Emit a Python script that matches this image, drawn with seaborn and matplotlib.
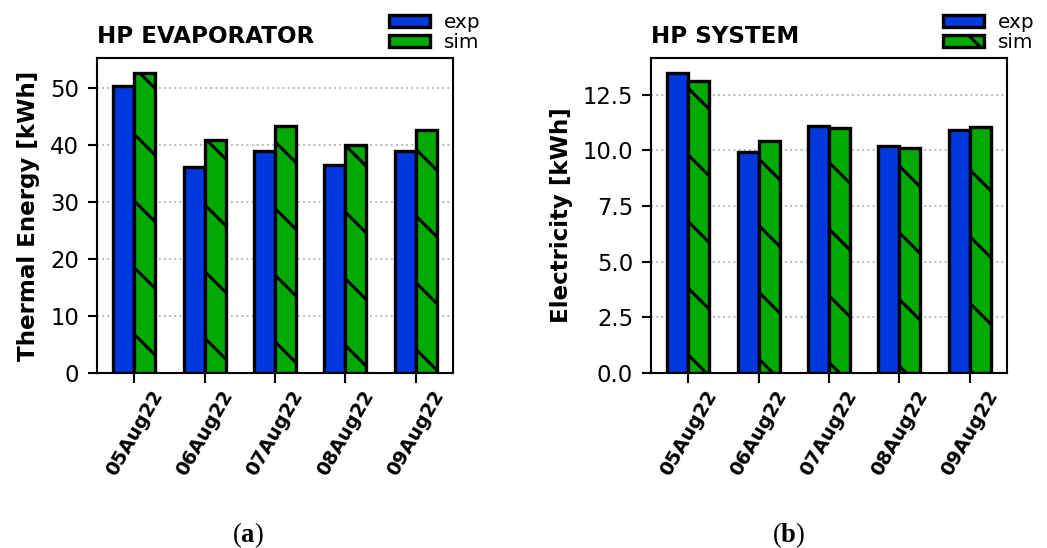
import matplotlib
matplotlib.use("Agg")
import matplotlib.pyplot as plt
import seaborn as sns
import pandas as pd

# ---- data ----
dates = ["05Aug22", "06Aug22", "07Aug22", "08Aug22", "09Aug22"]
series = ["exp", "sim"]
evap_exp = [50.3, 36.1, 39.0, 36.4, 38.9]
evap_sim = [52.6, 40.8, 43.3, 39.9, 42.6]
elec_exp = [13.47, 9.92, 11.09, 10.21, 10.90]
elec_sim = [13.11, 10.42, 10.98, 10.10, 11.05]
titles = ["HP EVAPORATOR", "HP SYSTEM"]
ylabels = ["Thermal Energy [kWh]", "Electricity [kWh]"]
captions = ["a", "b"]

sns.set_style("ticks")
DPI = 400
plt.rcParams.update({
    "font.family": ["DejaVu Sans"],
    "text.color": "black",
    "axes.labelcolor": "black",
    "hatch.linewidth": 0.55,
    "hatch.color": "black",
    "axes.linewidth": 0.38,
    "xtick.major.width": 0.38,
    "ytick.major.width": 0.38,
    "xtick.major.size": 1.75,
    "ytick.major.size": 1.7,
    "xtick.major.pad": 0.8,
    "ytick.major.pad": 1.5,
    "xtick.color": "black",
    "ytick.color": "black",
    "axes.edgecolor": "black",
    "mathtext.fontset": "custom",
    "mathtext.rm": "Liberation Serif",
    "mathtext.bf": "Liberation Serif:bold",
})

colors = {"exp": "#0038E0", "sim": "#00AA00"}

W, H = 1047, 548
fig = plt.figure(figsize=(W / DPI, H / DPI), dpi=DPI)

lefts = [97, 651]
data_sets = [(evap_exp, evap_sim), (elec_exp, elec_sim)]
cap_x = [248, 789]

TICK_FS = 4.1
XT_FS = 3.45
LAB_FS = 4.15

for i in range(2):
    e, s = data_sets[i]
    df = pd.DataFrame({
        "date": dates * 2,
        "series": ["exp"] * len(dates) + ["sim"] * len(dates),
        "value": list(e) + list(s),
    })
    ax = fig.add_axes([lefts[i] / W, (H - 373) / H, 356 / W, 315 / H])
    sns.barplot(data=df, x="date", y="value", hue="series", order=dates,
                hue_order=series, palette=colors, width=0.6, dodge=True,
                edgecolor="black", linewidth=0.6, saturation=1, ax=ax,
                legend=False, errorbar=None)
    for p in ax.containers[1]:
        p.set_hatch("\\\\")
    ax.set_xlim(-0.53, 4.53)
    ax.yaxis.grid(True, linestyle=":", color="#bbbbbb", linewidth=0.35)
    ax.set_axisbelow(True)
    ax.set_xlabel("")
    ax.set_ylabel(ylabels[i], fontsize=LAB_FS, fontweight="bold", labelpad=1.8)
    ax.set_title(titles[i], loc="left", fontsize=LAB_FS, fontweight="bold", pad=2.7)
    ax.tick_params(axis="y", labelsize=TICK_FS)
    ax.tick_params(axis="x", labelsize=XT_FS)
    for lbl in ax.get_xticklabels():
        lbl.set_rotation(60)
        lbl.set_fontweight("bold")
        lbl.set_ha("center")
    ax.legend(ax.containers, series, loc="upper left",
              bbox_to_anchor=(0.82, 1.142), frameon=False, fontsize=3.6,
              borderpad=0, borderaxespad=0, labelspacing=0.05,
              handlelength=2.05, handleheight=0.5, handletextpad=0.7)
    fig.text(cap_x[i] / W, 1 - 535 / H, r"$\mathrm{(}\mathbf{%s}\mathrm{)}$" % captions[i],
             ha="center", va="center", fontsize=4.8)

fig.savefig("out.png", dpi=DPI)
